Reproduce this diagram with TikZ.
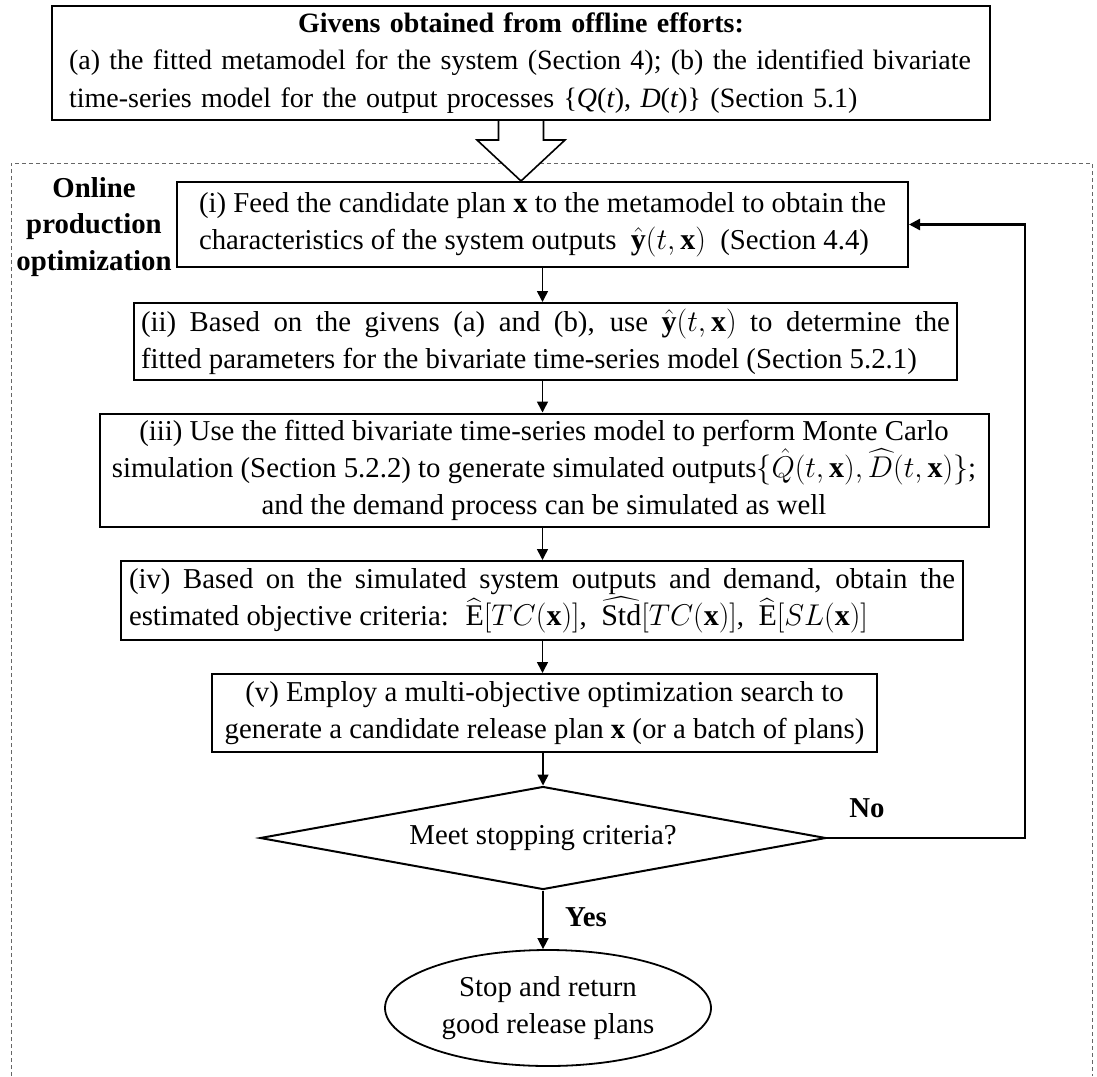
\RequirePackage{fix-cm}
\documentclass[tikz,border=0pt]{standalone}
\usepackage{fontspec}
\setmainfont{Liberation Serif}
\usepackage{amsmath}
\usetikzlibrary{shapes.geometric,arrows.meta,calc}
\newcommand\mbg[1]{{\fontsize{30}{37}\selectfont$#1$}}
\begin{document}
\begin{tikzpicture}[x=1pt,y=-1pt,
  every node/.style={font=\fontsize{28.8}{37}\selectfont, inner sep=0pt},
  box/.style={draw, line width=2pt, rectangle},
  flow/.style={-{Triangle[length=11pt,width=11pt]}, line width=1.6pt},
  lbl/.style={font=\fontsize{28.8}{36.5}\selectfont\bfseries},
  frame/.style={draw=black!60, line width=1pt, dash pattern=on 4pt off 3pt},
]
\useasboundingbox (0,0) rectangle (1097,1076);

% dashed frame
\draw[frame] (11,1076) -- (11,163) -- (1092,163) -- (1092,1076);

% top box
\node[box, minimum width=938pt, minimum height=114pt, text width=904pt, align=left,
      font=\fontsize{28}{37.5}\selectfont] (top) at (521,63)
 {\makebox[904pt]{\textbf{Givens obtained from offline efforts:}}\\
  (a) the fitted metamodel for the system (Section 4); (b) the identified bivariate\\
  time-series model for the output processes \{\textit{Q}(\textit{t}), \textit{D}(\textit{t})\} (Section 5.1)};

% box i
\node[box, minimum width=731pt, minimum height=85pt, align=left] (b1) at (542.5,224.5)
 {(i) Feed the candidate plan \textbf{x} to the metamodel to obtain the\\
  characteristics of the system outputs \ \mbg{\hat{\mathbf{y}}(t,\mathbf{x})} \ (Section 4.4)};

% box ii
\node[box, minimum width=823pt, minimum height=77pt, align=left] (b2) at (545.5,341.5)
 {\makebox[809pt][s]{(ii) Based on the givens (a) and (b), use \mbg{\hat{\mathbf{y}}(t,\mathbf{x})} to determine the}\\
  fitted parameters for the bivariate time-series model (Section 5.2.1)};

% box iii
\node[box, minimum width=889pt, minimum height=113pt, align=center] (b3) at (544,470)
 {(iii) Use the fitted bivariate time-series model to perform Monte Carlo\\
  simulation (Section 5.2.2) to generate simulated outputs\mbg{\{\hat{Q}(t,\mathbf{x}),\widehat{D}(t,\mathbf{x})\}};\\
  and the demand process can be simulated as well};

% box iv
\node[box, minimum width=842pt, minimum height=79pt, align=left] (b4) at (542,600.5)
 {\makebox[826pt][s]{(iv) Based on the simulated system outputs and demand, obtain the}\\
  estimated objective criteria: \ \mbg{\widehat{\mathrm{E}}[TC(\mathbf{x})]}, \ \mbg{\widehat{\mathrm{Std}}[TC(\mathbf{x})]}, \ \mbg{\widehat{\mathrm{E}}[SL(\mathbf{x})]}};

% box v
\node[box, minimum width=665pt, minimum height=78pt, align=center] (b5) at (544.5,713)
 {(v) Employ a multi-objective optimization search to\\
  generate a candidate release plan \textbf{x} (or a batch of plans)};

% decision
\node[draw, diamond, aspect=5.5, line width=2pt, minimum width=566pt, minimum height=103pt] (dec) at (543,838)
 {Meet stopping criteria?};

% stop
\node[draw, ellipse, line width=1.8pt, minimum width=326pt, minimum height=116pt, align=center] (stop) at (548,1008)
 {Stop and return\\good release plans};

% side label
\node[lbl, align=center] (online) at (94,227) {Online\\production\\optimization};

% hollow arrow
\draw[line width=1.6pt, fill=white]
  ($(top.south)+(-22.5,0)$) -- ($(top.south)+(-22.5,19)$) -- ($(top.south)+(-44,19)$)
  -- (b1.north -| top.south) -- ($(top.south)+(44,19)$) -- ($(top.south)+(22.5,19)$)
  -- ($(top.south)+(22.5,0)$);

% flow arrows
\draw[flow] (b1.south) -- (b1.south |- b2.north);
\draw[flow] (b1.south |- b2.south) -- (b1.south |- b3.north);
\draw[flow] (b1.south |- b3.south) -- (b1.south |- b4.north);
\draw[flow] (b1.south |- b4.south) -- (b1.south |- b5.north);
\draw[flow] (dec.south |- b5.south) -- (dec.north);
\draw[flow] (dec.south) -- (dec.south |- stop.north);

% feedback
\coordinate (fbx) at (1025,0);
\draw[-{Triangle[length=11pt,width=11pt]}, line width=2.4pt] (dec.east) -- (dec.east -| fbx) |- (b1.east);

% labels
\node[lbl] (no) at (867,808) {No};
\node[lbl] (yes) at (586,917) {Yes};
\end{tikzpicture}
\end{document}
